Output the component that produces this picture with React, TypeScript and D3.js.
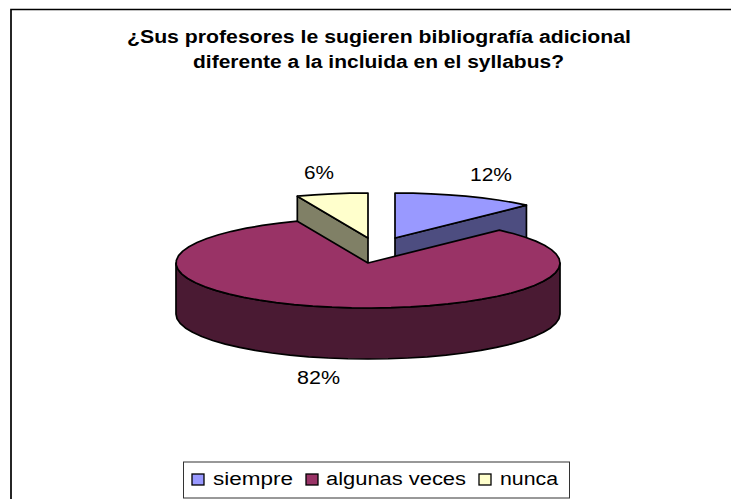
import React from "react";
import * as d3 from "d3";

const categories = ["siempre", "algunas veces", "nunca"];
const values = [12, 82, 6];
const colors = ["#9999FF", "#993366", "#FFFFCC"];
const sideColors = ["#4D4D80", "#4A1A33", "#808066"];
const titleLines = ["¿Sus profesores le sugieren bibliografía adicional", "diferente a la incluida en el syllabus?"];
const labels = ["12%", "82%", "6%"];

const W = 731, H = 499;
const cx = 368, cy = 263, rx = 192, ry = 45, depth = 51;
const offsets: [number, number][] = [[27, -25], [0, 0], [0, -25]];
const labelPos: [number, number][] = [[470, 181], [297, 384], [304, 179]];
const labelLen = [42, 43, 30];
const legendX = [192, 306, 479];
const legendTextX = [213, 326, 500];
const legendLen = [80, 140, 58];
const titlePos: [number, number, number][] = [[127, 43, 504], [193, 68, 371]];

const font = "'Liberation Sans', Arial, sans-serif";
const lineGen = d3.line<[number, number]>();

function pt(a: number, ox: number, oy: number, dz = 0): [number, number] {
  return [cx + ox + rx * Math.sin(a), cy + oy - ry * Math.cos(a) + dz];
}

function arcPts(a0: number, a1: number, ox: number, oy: number, dz = 0) {
  const n = Math.max(1, Math.ceil((a1 - a0) / (Math.PI / 30)));
  return d3.range(n + 1).map((i) => pt(a0 + ((a1 - a0) * i) / n, ox, oy, dz));
}

export default function App() {
  const arcs = d3.pie<number>().sort(null)(values);
  const order = [2, 0, 1];
  return (
    <svg width={W} height={H} style={{ position: "fixed", left: 0, top: 0 }}>
      <rect width={W} height={H} fill="#fff" />
      <path d={`M11 ${H}V9.5H${W}`} fill="none" stroke="#000" strokeWidth={1.7} />
      <g fontFamily={font} fontWeight="bold" fontSize={18} fill="#000">
        {titleLines.map((t, i) => (
          <text key={t} x={titlePos[i][0]} y={titlePos[i][1]} textLength={titlePos[i][2]} lengthAdjust="spacingAndGlyphs">{t}</text>
        ))}
      </g>
      {order.map((i) => {
        const d = arcs[i];
        const [ox, oy] = offsets[i];
        const apex: [number, number] = [cx + ox, cy + oy];
        const apexB: [number, number] = [apex[0], apex[1] + depth];
        const top = arcPts(d.startAngle, d.endAngle, ox, oy);
        const f0 = Math.max(d.startAngle, Math.PI / 2);
        const f1 = Math.min(d.endAngle, (3 * Math.PI) / 2);
        const rim = f1 > f0
          ? [...arcPts(f0, f1, ox, oy), ...arcPts(f0, f1, ox, oy, depth).reverse()]
          : null;
        const s: [number, number] = pt(d.startAngle, ox, oy);
        const e: [number, number] = pt(d.endAngle, ox, oy);
        const sB: [number, number] = pt(d.startAngle, ox, oy, depth);
        const eB: [number, number] = pt(d.endAngle, ox, oy, depth);
        return (
          <g key={categories[i]} stroke="#000" strokeWidth={1.7} strokeLinejoin="round">
            {i === 0 && <path d={lineGen([apex, e, eB, apexB])! + "Z"} fill={sideColors[i]} />}
            {i === 2 && <path d={lineGen([apex, s, sB, apexB])! + "Z"} fill={sideColors[i]} />}
            {rim && <path d={lineGen(rim)! + "Z"} fill={sideColors[i]} />}
            <path d={lineGen([apex, ...top])! + "Z"} fill={colors[i]} />
          </g>
        );
      })}
      <g fontFamily={font} fontSize={18} fill="#000">
        {labels.map((t, i) => (
          <text key={t} x={labelPos[i][0]} y={labelPos[i][1]} textLength={labelLen[i]} lengthAdjust="spacingAndGlyphs">{t}</text>
        ))}
      </g>
      <rect x={183.5} y={462} width={386} height={36} fill="#fff" stroke="#333" strokeWidth={1} />
      {categories.map((c, i) => (
        <g key={c}>
          <rect x={legendX[i]} y={474} width={12} height={11} fill={colors[i]} stroke="#000" strokeWidth={1.3} />
          <text x={legendTextX[i]} y={485} fontFamily={font} fontSize={18} textLength={legendLen[i]} lengthAdjust="spacingAndGlyphs" fill="#000">{c}</text>
        </g>
      ))}
    </svg>
  );
}
